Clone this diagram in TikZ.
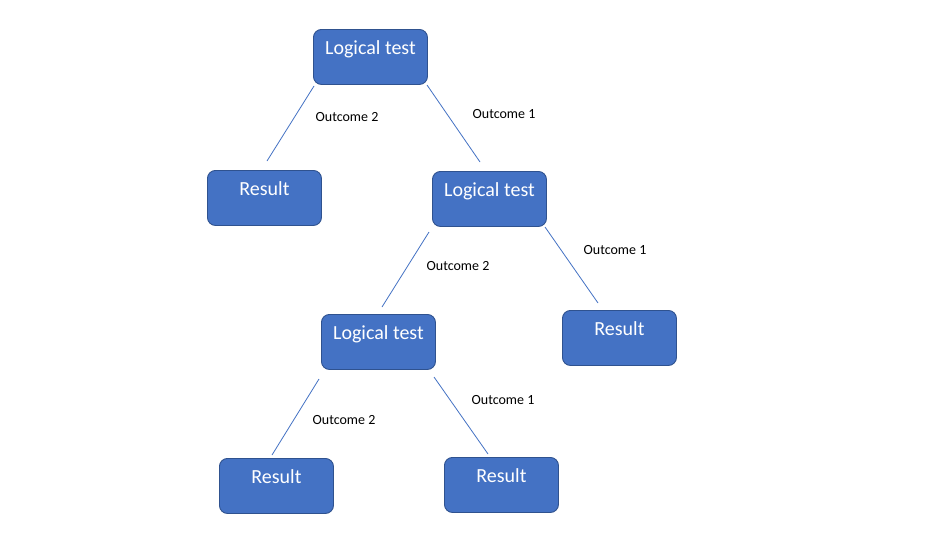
\documentclass[tikz,border=0pt]{standalone}
\usepackage{fontspec}
\setmainfont{Carlito}
\definecolor{boxfill}{HTML}{4472C4}
\definecolor{boxline}{HTML}{2F528F}
\definecolor{conn}{HTML}{4472C4}
\begin{document}
\begin{tikzpicture}[x=1pt,y=-1pt,
  box/.style={draw=boxline, line width=0.9pt, fill=boxfill, rounded corners=8pt,
    minimum width=114pt, minimum height=55pt, inner sep=0pt, anchor=north west},
  boxtext/.style={text=white, font=\fontsize{20}{22}\selectfont, anchor=base, inner sep=0pt},
  conn/.style={draw=conn, line width=0.8pt},
  outc/.style={font=\fontsize{14}{16}\selectfont, inner sep=0pt, anchor=center}]
\useasboundingbox (0,0) rectangle (925,541);
\fill[white] (0,0) rectangle (925,541);
% boxes
\node[box] (lt1) at (313,29) {};
\node[box] (r1) at (207,170) {};
\node[box] (lt2) at (432,171) {};
\node[box] (lt3) at (321,314) {};
\node[box] (r2) at (562,310) {};
\node[box] (r3) at (219,458) {};
\node[box] (r4) at (444,457) {};
% texts
\node[boxtext] (t1) at ([yshift=-25pt]lt1.north) {Logical test};
\node[boxtext] (t2) at ([yshift=-25pt]r1.north) {Result};
\node[boxtext] (t3) at ([yshift=-25pt]lt2.north) {Logical test};
\node[boxtext] (t4) at ([yshift=-25pt]lt3.north) {Logical test};
\node[boxtext] (t5) at ([yshift=-25pt]r2.north) {Result};
\node[boxtext] (t6) at ([yshift=-25pt]r3.north) {Result};
\node[boxtext] (t7) at ([yshift=-25pt]r4.north) {Result};
% connector end points
\coordinate (a1) at (314,86);  \coordinate (b1) at (267,161);
\coordinate (a2) at (427,85);  \coordinate (b2) at (480,162);
\coordinate (a3) at (429,232); \coordinate (b3) at (382,307);
\coordinate (a4) at (545,227); \coordinate (b4) at (598,303);
\coordinate (a5) at (319,379); \coordinate (b5) at (272,455);
\coordinate (a6) at (434,377); \coordinate (b6) at (488,454);
\draw[conn] (a1) -- (b1);
\draw[conn] (a2) -- (b2);
\draw[conn] (a3) -- (b3);
\draw[conn] (a4) -- (b4);
\draw[conn] (a5) -- (b5);
\draw[conn] (a6) -- (b6);
% outcome labels
\node[outc] (o1) at (347,117) {Outcome 2};
\node[outc] (o2) at (504,114) {Outcome 1};
\node[outc] (o3) at (458,266) {Outcome 2};
\node[outc] (o4) at (615,250) {Outcome 1};
\node[outc] (o5) at (344,420) {Outcome 2};
\node[outc] (o6) at (503,400) {Outcome 1};
\end{tikzpicture}
\end{document}
